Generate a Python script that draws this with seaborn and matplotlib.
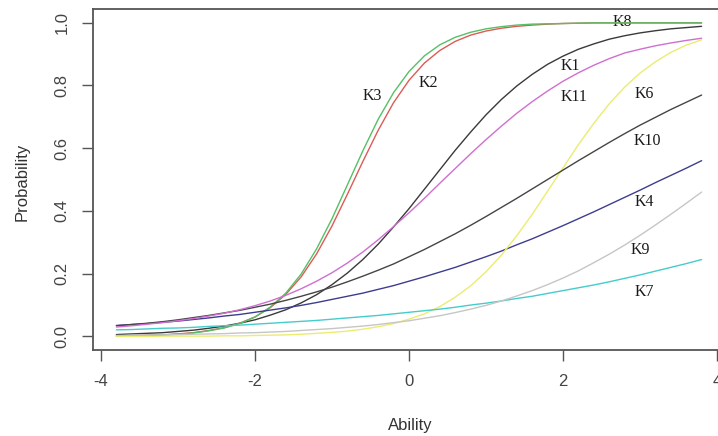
import matplotlib
matplotlib.use("Agg")
import matplotlib.pyplot as plt
import numpy as np
import pandas as pd
import seaborn as sns

# Ability grid (x axis) and the item curves
ability = [-3.8, -3.6, -3.4, -3.2, -3.0, -2.8, -2.6, -2.4, -2.2, -2.0,
           -1.8, -1.6, -1.4, -1.2, -1.0, -0.8, -0.6, -0.4, -0.2, 0.0,
           0.2, 0.4, 0.6, 0.8, 1.0, 1.2, 1.4, 1.6, 1.8, 2.0,
           2.2, 2.4, 2.6, 2.8, 3.0, 3.2, 3.4, 3.6, 3.8]

k1 = [0.006, 0.008, 0.010, 0.012, 0.016, 0.020, 0.026, 0.033, 0.042, 0.053,
      0.068, 0.085, 0.107, 0.133, 0.165, 0.202, 0.245, 0.294, 0.349, 0.407,
      0.469, 0.531, 0.593, 0.651, 0.706, 0.755, 0.798, 0.835, 0.867, 0.893,
      0.915, 0.932, 0.947, 0.958, 0.967, 0.974, 0.980, 0.984, 0.988]
k2 = [0.002, 0.002, 0.004, 0.005, 0.008, 0.012, 0.019, 0.028, 0.042, 0.062,
      0.092, 0.134, 0.190, 0.263, 0.352, 0.453, 0.557, 0.657, 0.745, 0.816,
      0.871, 0.911, 0.940, 0.960, 0.973, 0.982, 0.988, 0.992, 0.995, 0.997,
      0.998, 0.999, 0.999, 0.999, 0.999, 0.999, 0.999, 0.999, 0.999]
k3 = [0.001, 0.002, 0.003, 0.005, 0.007, 0.011, 0.018, 0.027, 0.041, 0.062,
      0.094, 0.138, 0.199, 0.279, 0.375, 0.483, 0.591, 0.692, 0.777, 0.844,
      0.894, 0.929, 0.953, 0.969, 0.980, 0.987, 0.992, 0.995, 0.996, 0.997,
      0.998, 0.999, 0.999, 0.999, 0.999, 0.999, 0.999, 0.999, 0.999]
k4 = [0.035, 0.038, 0.041, 0.045, 0.049, 0.054, 0.059, 0.065, 0.070, 0.077,
      0.084, 0.091, 0.099, 0.108, 0.118, 0.128, 0.138, 0.150, 0.162, 0.176,
      0.190, 0.205, 0.220, 0.237, 0.254, 0.272, 0.292, 0.311, 0.332, 0.353,
      0.375, 0.397, 0.420, 0.443, 0.466, 0.490, 0.513, 0.536, 0.560]
k6 = [0.000, 0.000, 0.000, 0.001, 0.001, 0.001, 0.001, 0.002, 0.002, 0.003,
      0.004, 0.005, 0.007, 0.010, 0.013, 0.017, 0.023, 0.031, 0.041, 0.055,
      0.072, 0.095, 0.125, 0.161, 0.206, 0.259, 0.321, 0.389, 0.463, 0.537,
      0.611, 0.679, 0.741, 0.794, 0.839, 0.875, 0.905, 0.928, 0.945]
k7 = [0.021, 0.022, 0.024, 0.026, 0.027, 0.029, 0.032, 0.034, 0.036, 0.039,
      0.042, 0.045, 0.048, 0.051, 0.055, 0.059, 0.063, 0.067, 0.072, 0.077,
      0.082, 0.087, 0.093, 0.100, 0.106, 0.113, 0.121, 0.128, 0.137, 0.146,
      0.155, 0.164, 0.174, 0.185, 0.196, 0.208, 0.220, 0.232, 0.245]
k9 = [0.003, 0.004, 0.004, 0.005, 0.006, 0.007, 0.008, 0.009, 0.011, 0.012,
      0.014, 0.016, 0.019, 0.022, 0.025, 0.029, 0.033, 0.038, 0.044, 0.050,
      0.058, 0.066, 0.076, 0.087, 0.099, 0.113, 0.129, 0.146, 0.165, 0.186,
      0.209, 0.235, 0.262, 0.291, 0.322, 0.355, 0.389, 0.424, 0.460]
k10 = [0.034, 0.038, 0.042, 0.047, 0.053, 0.060, 0.067, 0.075, 0.083, 0.093,
       0.103, 0.115, 0.128, 0.142, 0.157, 0.174, 0.192, 0.211, 0.231, 0.254,
       0.277, 0.302, 0.327, 0.354, 0.382, 0.411, 0.440, 0.470, 0.500, 0.530,
       0.560, 0.589, 0.618, 0.646, 0.673, 0.698, 0.723, 0.746, 0.769]
k11 = [0.030, 0.034, 0.039, 0.044, 0.050, 0.057, 0.065, 0.074, 0.085, 0.098,
       0.113, 0.131, 0.152, 0.176, 0.203, 0.234, 0.269, 0.308, 0.350, 0.394,
       0.440, 0.488, 0.535, 0.582, 0.627, 0.670, 0.711, 0.748, 0.782, 0.813,
       0.840, 0.864, 0.885, 0.903, 0.915, 0.926, 0.935, 0.943, 0.950]

items = ["K1", "K2", "K3", "K4", "K6", "K7", "K9", "K10", "K11"]
curves = [k1, k2, k3, k4, k6, k7, k9, k10, k11]
colors = ["#3a3a3a", "#dd5a55", "#55c065", "#3d3d8f", "#ecec70",
          "#45cccc", "#c6c6c6", "#454545", "#cf6fcf"]

# label positions (ability, probability)
label_names = ["K3", "K2", "K1", "K11", "K6", "K10", "K4", "K9", "K7", "K8"]
label_x = [-0.48, 0.25, 2.10, 2.14, 3.05, 3.10, 3.05, 3.00, 3.05, 2.77]
label_y = [0.765, 0.806, 0.863, 0.762, 0.771, 0.622, 0.429, 0.276, 0.143, 1.003]

df = pd.DataFrame({
    "Ability": np.tile(ability, len(items)),
    "Probability": np.concatenate(curves),
    "item": np.repeat(items, len(ability)),
})

sns.set_style("white")
plt.rcParams["font.family"] = ["Liberation Sans", "DejaVu Sans"]

fig = plt.figure(figsize=(7.18, 4.36), dpi=100)
ax = fig.add_axes([93 / 718, 86 / 436, 632 / 718, 341 / 436])

for nm, x, y in zip(label_names, label_x, label_y):
    ax.text(x, y, nm, ha="center", va="center", fontsize=11.5,
            family="Liberation Serif", color="#1a1a1a", zorder=1)

sns.lineplot(data=df, x="Ability", y="Probability", hue="item",
             hue_order=items, palette=dict(zip(items, colors)),
             linewidth=1.0, legend=False, ax=ax, zorder=2)

ax.set_xlim(-4.104, 4.104)
ax.set_ylim(-0.0432, 1.0432)
ax.set_xticks([-4, -2, 0, 2, 4])
ax.set_yticks([0.0, 0.2, 0.4, 0.6, 0.8, 1.0])
ax.set_xticklabels(["-4", "-2", "0", "2", "4"])
ax.set_yticklabels(["0.0", "0.2", "0.4", "0.6", "0.8", "1.0"],
                   rotation=90, va="center")
ax.tick_params(direction="out", length=8, width=1.0, color="#555555",
               labelcolor="#444444", labelsize=12, pad=9,
               left=True, bottom=True)
for sp in ax.spines.values():
    sp.set_color("#555555")
    sp.set_linewidth(1.3)

ax.set_xlabel("Ability", fontsize=12, color="#333333")
ax.set_ylabel("Probability", fontsize=12, color="#333333")
ax.xaxis.set_label_coords((410 - 93) / 632, (350 - 425) / 341)
ax.xaxis.label.set_va("center")
ax.yaxis.set_label_coords((22 - 93) / 632, (350 - 182) / 341)
ax.yaxis.label.set_va("center")

fig.savefig("out.png", dpi=100)
